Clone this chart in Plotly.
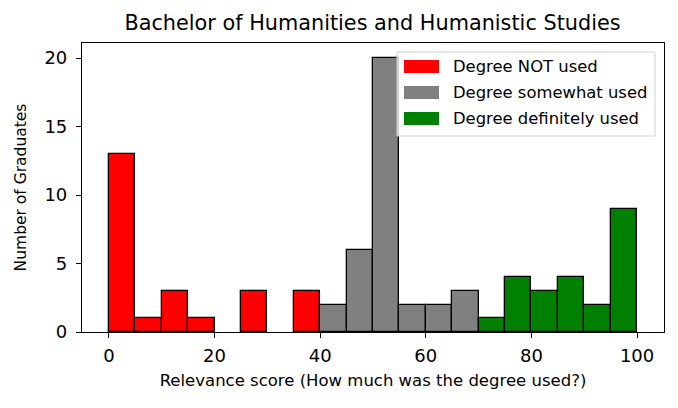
import plotly.graph_objects as go

bin_starts = [0, 5, 10, 15, 20, 25, 30, 35, 40, 45, 50, 55, 60, 65, 70, 75, 80, 85, 90, 95]
counts = [13, 1, 3, 1, 0, 3, 0, 3, 2, 6, 20, 2, 2, 3, 1, 4, 3, 4, 2, 9]
group_names = ["Degree NOT used", "Degree somewhat used", "Degree definitely used"]
group_colors = ["red", "grey", "green"]
group_bounds = [(0, 40), (40, 70), (70, 100)]
x_ticks = [0, 20, 40, 60, 80, 100]
y_ticks = [0, 5, 10, 15, 20]
BIN_W = 5

fig = go.Figure()
for name, color, (lo, hi) in zip(group_names, group_colors, group_bounds):
    xs = [b + BIN_W / 2 for b, c in zip(bin_starts, counts) if lo <= b < hi and c > 0]
    ys = [c for b, c in zip(bin_starts, counts) if lo <= b < hi and c > 0]
    fig.add_trace(go.Bar(
        x=xs, y=ys, width=BIN_W, name=name, showlegend=False,
        marker=dict(color=color, line=dict(color="black", width=1.3)),
    ))

# matplotlib-style legend drawn in paper coordinates
L, R, T, B = 82, 664, 43, 332
PW, PH = R - L, B - T
def px(x): return (x - L) / PW
def py(y): return (B - y) / PH

fig.add_shape(type="rect", xref="paper", yref="paper",
              x0=px(397), x1=px(655), y0=py(136), y1=py(52),
              line=dict(color="#d0d0d0", width=1), fillcolor="rgba(255,255,255,0.8)", layer="above")
for i, (name, color) in enumerate(zip(group_names, group_colors)):
    top = 60 + i * 26
    fig.add_shape(type="rect", xref="paper", yref="paper",
                  x0=px(404), x1=px(439), y0=py(top + 13), y1=py(top),
                  line=dict(width=0), fillcolor=color, layer="above")
    fig.add_annotation(xref="paper", yref="paper", x=px(451), y=py(top + 6.5),
                       xanchor="left", yanchor="middle", text=name, showarrow=False,
                       font=dict(size=16.4, color="black"))

fig.update_layout(
    width=678, height=408,
    margin=dict(l=L, r=678 - R, t=T, b=408 - B, autoexpand=False),
    plot_bgcolor="white", paper_bgcolor="white",
    barmode="overlay", bargap=0, showlegend=False,
    font=dict(family="DejaVu Sans", color="black"),
    title=dict(text="Bachelor of Humanities and Humanistic Studies", x=(124 + 621) / 2 / 678, xanchor="center",
               y=1 - 23 / 408, yanchor="middle", font=dict(size=20.8)),
)
fig.update_xaxes(range=[-5.1, 105.1], tickvals=x_ticks, ticks="outside",
                 ticklen=5, tickwidth=1.2, tickcolor="black", showline=True, linecolor="black",
                 linewidth=1.2, mirror=True, showgrid=False, zeroline=False,
                 tickfont=dict(size=18), ticklabelstandoff=2,
                 title=dict(text="Relevance score (How much was the degree used?)", font=dict(size=16.5), standoff=9))
fig.update_yaxes(range=[0, 21.1], tickvals=y_ticks, ticks="outside",
                 ticklen=5, tickwidth=1.2, tickcolor="black", showline=True, linecolor="black",
                 linewidth=1.2, mirror=True, showgrid=False, zeroline=False,
                 tickfont=dict(size=18), ticklabelstandoff=5,
                 title=dict(text="Number of Graduates", font=dict(size=15.5), standoff=13))

fig.write_html("out.html", config={"displayModeBar": False},
               post_script="document.body.style.margin='0';document.body.style.overflow='hidden';")
